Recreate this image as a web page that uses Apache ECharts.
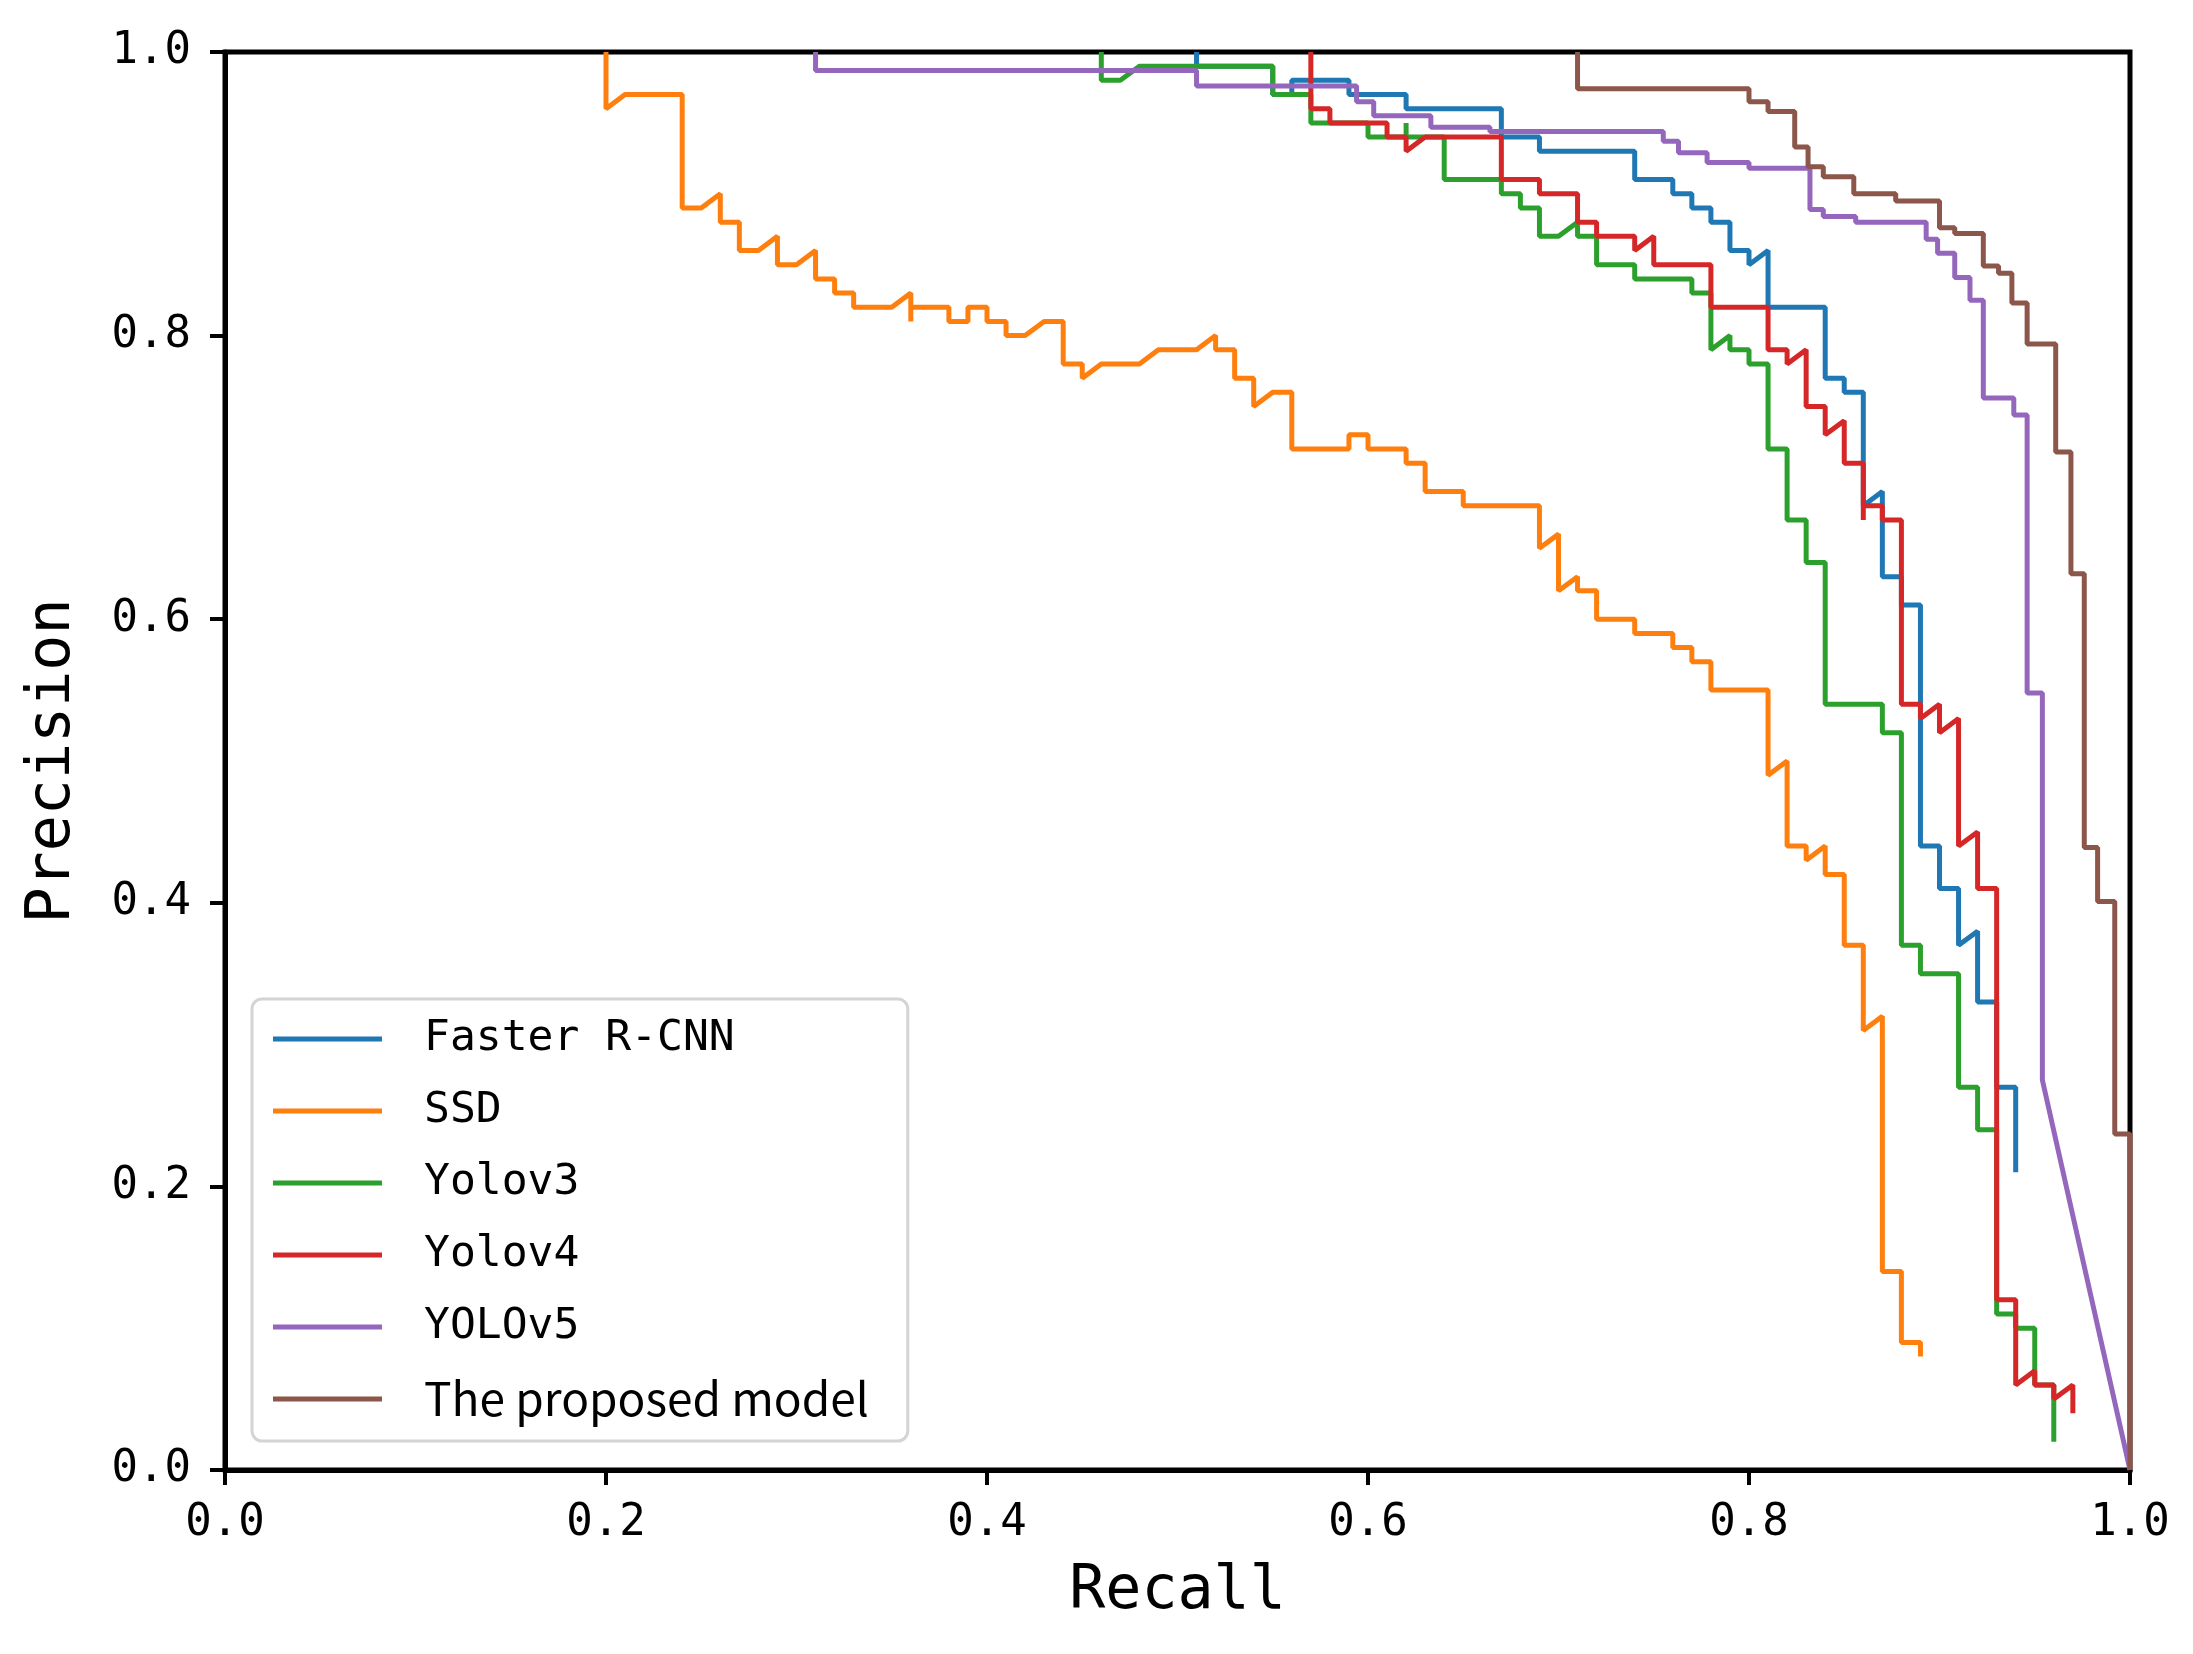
<!DOCTYPE html>
<html>
<head>
<meta charset="utf-8">
<title>PR curves</title>
<script src="https://cdn.jsdelivr.net/npm/echarts@6.0.0/dist/echarts.min.js"></script>
<style>
    html, body { margin: 0; padding: 0; background: #fff; }
    #chart { width: 2193px; height: 1654px; }
</style>
</head>
<body>
<div id="chart"></div>
<script>
// tick labels
const xTicks = [0, 0.2, 0.4, 0.6, 0.8, 1.0];
const yTicks = [0, 0.2, 0.4, 0.6, 0.8, 1.0];

const seriesNames = ['Faster R-CNN', 'SSD', 'Yolov3', 'Yolov4', 'YOLOv5', 'The proposed model'];

// Faster R-CNN
const fasterRecall = [0.51, 0.51, 0.55, 0.55, 0.56, 0.56, 0.59, 0.59, 0.62, 0.62, 0.67, 0.67, 0.69, 0.69, 0.74, 0.74, 0.76, 0.76, 0.77, 0.77, 0.78, 0.78, 0.79, 0.79, 0.80, 0.80, 0.81, 0.81, 0.84, 0.84, 0.85, 0.85, 0.86, 0.86, 0.87, 0.87, 0.88, 0.88, 0.89, 0.89, 0.90, 0.90, 0.91, 0.91, 0.92, 0.92, 0.93, 0.93, 0.94, 0.94];
const fasterPrecision = [1.00, 0.99, 0.99, 0.97, 0.97, 0.98, 0.98, 0.97, 0.97, 0.96, 0.96, 0.94, 0.94, 0.93, 0.93, 0.91, 0.91, 0.90, 0.90, 0.89, 0.89, 0.88, 0.88, 0.86, 0.86, 0.85, 0.86, 0.82, 0.82, 0.77, 0.77, 0.76, 0.76, 0.68, 0.69, 0.63, 0.63, 0.61, 0.61, 0.44, 0.44, 0.41, 0.41, 0.37, 0.38, 0.33, 0.33, 0.27, 0.27, 0.21];

// SSD
const ssdRecall = [0.20, 0.20, 0.21, 0.24, 0.24, 0.25, 0.26, 0.26, 0.27, 0.27, 0.28, 0.29, 0.29, 0.30, 0.31, 0.31, 0.32, 0.32, 0.33, 0.33, 0.35, 0.36, 0.36, 0.36, 0.38, 0.38, 0.39, 0.39, 0.40, 0.40, 0.41, 0.41, 0.42, 0.43, 0.44, 0.44, 0.45, 0.45, 0.46, 0.48, 0.49, 0.51, 0.52, 0.52, 0.53, 0.53, 0.54, 0.54, 0.55, 0.56, 0.56, 0.59, 0.59, 0.60, 0.60, 0.62, 0.62, 0.63, 0.63, 0.65, 0.65, 0.69, 0.69, 0.70, 0.70, 0.71, 0.71, 0.72, 0.72, 0.74, 0.74, 0.76, 0.76, 0.77, 0.77, 0.78, 0.78, 0.81, 0.81, 0.82, 0.82, 0.83, 0.83, 0.84, 0.84, 0.85, 0.85, 0.86, 0.86, 0.87, 0.87, 0.88, 0.88, 0.89, 0.89];
const ssdPrecision = [1.00, 0.96, 0.97, 0.97, 0.89, 0.89, 0.90, 0.88, 0.88, 0.86, 0.86, 0.87, 0.85, 0.85, 0.86, 0.84, 0.84, 0.83, 0.83, 0.82, 0.82, 0.83, 0.81, 0.82, 0.82, 0.81, 0.81, 0.82, 0.82, 0.81, 0.81, 0.80, 0.80, 0.81, 0.81, 0.78, 0.78, 0.77, 0.78, 0.78, 0.79, 0.79, 0.80, 0.79, 0.79, 0.77, 0.77, 0.75, 0.76, 0.76, 0.72, 0.72, 0.73, 0.73, 0.72, 0.72, 0.71, 0.71, 0.69, 0.69, 0.68, 0.68, 0.65, 0.66, 0.62, 0.63, 0.62, 0.62, 0.60, 0.60, 0.59, 0.59, 0.58, 0.58, 0.57, 0.57, 0.55, 0.55, 0.49, 0.50, 0.44, 0.44, 0.43, 0.44, 0.42, 0.42, 0.37, 0.37, 0.31, 0.32, 0.14, 0.14, 0.09, 0.09, 0.08];

// Yolov3
const v3Recall = [0.46, 0.46, 0.47, 0.48, 0.55, 0.55, 0.57, 0.57, 0.60, 0.60, 0.62, 0.62, 0.62, 0.64, 0.64, 0.67, 0.67, 0.68, 0.68, 0.69, 0.69, 0.70, 0.71, 0.71, 0.72, 0.72, 0.74, 0.74, 0.77, 0.77, 0.78, 0.78, 0.79, 0.79, 0.80, 0.80, 0.81, 0.81, 0.82, 0.82, 0.83, 0.83, 0.84, 0.84, 0.87, 0.87, 0.88, 0.88, 0.89, 0.89, 0.91, 0.91, 0.92, 0.92, 0.93, 0.93, 0.94, 0.94, 0.95, 0.95, 0.96, 0.96];
const v3Precision = [1.00, 0.98, 0.98, 0.99, 0.99, 0.97, 0.97, 0.95, 0.95, 0.94, 0.94, 0.95, 0.94, 0.94, 0.91, 0.91, 0.90, 0.90, 0.89, 0.89, 0.87, 0.87, 0.88, 0.87, 0.87, 0.85, 0.85, 0.84, 0.84, 0.83, 0.83, 0.79, 0.80, 0.79, 0.79, 0.78, 0.78, 0.72, 0.72, 0.67, 0.67, 0.64, 0.64, 0.54, 0.54, 0.52, 0.52, 0.37, 0.37, 0.35, 0.35, 0.27, 0.27, 0.24, 0.24, 0.11, 0.11, 0.10, 0.10, 0.06, 0.06, 0.02];

// Yolov4
const v4Recall = [0.57, 0.57, 0.58, 0.58, 0.61, 0.61, 0.62, 0.62, 0.63, 0.67, 0.67, 0.69, 0.69, 0.71, 0.71, 0.72, 0.72, 0.74, 0.74, 0.75, 0.75, 0.78, 0.78, 0.81, 0.81, 0.82, 0.82, 0.83, 0.83, 0.84, 0.84, 0.85, 0.85, 0.86, 0.86, 0.86, 0.87, 0.87, 0.88, 0.88, 0.89, 0.89, 0.90, 0.90, 0.91, 0.91, 0.92, 0.92, 0.93, 0.93, 0.94, 0.94, 0.95, 0.95, 0.96, 0.96, 0.97, 0.97];
const v4Precision = [1.00, 0.96, 0.96, 0.95, 0.95, 0.94, 0.94, 0.93, 0.94, 0.94, 0.91, 0.91, 0.90, 0.90, 0.88, 0.88, 0.87, 0.87, 0.86, 0.87, 0.85, 0.85, 0.82, 0.82, 0.79, 0.79, 0.78, 0.79, 0.75, 0.75, 0.73, 0.74, 0.71, 0.71, 0.67, 0.68, 0.68, 0.67, 0.67, 0.54, 0.54, 0.53, 0.54, 0.52, 0.53, 0.44, 0.45, 0.41, 0.41, 0.12, 0.12, 0.06, 0.07, 0.06, 0.06, 0.05, 0.06, 0.04];

// YOLOv5
const v5Recall = [0.31, 0.31, 0.51, 0.51, 0.594, 0.594, 0.603, 0.603, 0.633, 0.633, 0.664, 0.664, 0.755, 0.755, 0.763, 0.763, 0.778, 0.778, 0.80, 0.80, 0.832, 0.832, 0.839, 0.839, 0.856, 0.856, 0.893, 0.893, 0.899, 0.899, 0.908, 0.908, 0.916, 0.916, 0.923, 0.923, 0.939, 0.939, 0.946, 0.946, 0.954, 0.954, 1.0];
const v5Precision = [1.00, 0.987, 0.987, 0.976, 0.976, 0.965, 0.965, 0.955, 0.955, 0.947, 0.947, 0.944, 0.944, 0.937, 0.937, 0.929, 0.929, 0.922, 0.922, 0.918, 0.918, 0.889, 0.889, 0.884, 0.884, 0.880, 0.880, 0.868, 0.868, 0.858, 0.858, 0.841, 0.841, 0.825, 0.825, 0.756, 0.756, 0.744, 0.744, 0.548, 0.548, 0.275, 0.0];

// The proposed model
const oursRecall = [0.71, 0.71, 0.80, 0.80, 0.81, 0.81, 0.824, 0.824, 0.831, 0.831, 0.839, 0.839, 0.855, 0.855, 0.877, 0.877, 0.90, 0.90, 0.908, 0.908, 0.923, 0.923, 0.931, 0.931, 0.938, 0.938, 0.946, 0.946, 0.961, 0.961, 0.969, 0.969, 0.976, 0.976, 0.983, 0.983, 0.992, 0.992, 1.0, 1.0];
const oursPrecision = [1.00, 0.974, 0.974, 0.965, 0.965, 0.958, 0.958, 0.933, 0.933, 0.919, 0.919, 0.912, 0.912, 0.900, 0.900, 0.895, 0.895, 0.876, 0.876, 0.872, 0.872, 0.849, 0.849, 0.844, 0.844, 0.823, 0.823, 0.794, 0.794, 0.718, 0.718, 0.632, 0.632, 0.439, 0.439, 0.401, 0.401, 0.237, 0.237, 0.0];

const colors = ['#1f77b4', '#ff7f0e', '#2ca02c', '#d62728', '#9467bd', '#8c564b'];
const curves = [
    [fasterRecall, fasterPrecision],
    [ssdRecall, ssdPrecision],
    [v3Recall, v3Precision],
    [v4Recall, v4Precision],
    [v5Recall, v5Precision],
    [oursRecall, oursPrecision]
];

const monoFont = '"DejaVu Sans Mono", "Liberation Mono", monospace';

const toPoints = (recall, precision) => recall.map((r, i) => [r, precision[i]]);

const tickLabel = (value) => value.toFixed(1);

const buildSeries = () => curves.map(([recall, precision], i) => ({
    name: seriesNames[i],
    type: 'line',
    data: toPoints(recall, precision),
    symbol: 'none',
    lineStyle: { color: colors[i], width: 5 },
    itemStyle: { color: colors[i] },
    emphasis: { disabled: true }
}));

const axisCommon = {
    type: 'value',
    interval: 0.2,
    nameLocation: 'middle',
    nameTextStyle: { fontFamily: monoFont, fontSize: 60, color: '#000' },
    axisLine: { show: true, lineStyle: { color: '#000', width: 5 } },
    axisTick: { show: true, inside: false, length: 15, lineStyle: { color: '#000', width: 4 } },
    splitLine: { show: false }
};

const chartOpt = () => ({
    backgroundColor: '#fff',
    animation: false,
    color: colors,
    grid: {
        left: 225,
        right: 63,
        top: 52,
        bottom: 184,
        show: true,
        borderColor: '#000',
        borderWidth: 5,
        backgroundColor: 'transparent'
    },
    xAxis: {
        ...axisCommon,
        min: xTicks[0],
        max: xTicks[xTicks.length - 1],
        name: 'Recall',
        nameGap: 92,
        axisLabel: {
            margin: 32,
            fontFamily: monoFont,
            fontSize: 44,
            color: '#000',
            formatter: tickLabel,
            showMinLabel: true,
            showMaxLabel: true
        }
    },
    yAxis: {
        ...axisCommon,
        min: yTicks[0],
        max: yTicks[yTicks.length - 1],
        name: 'Precision',
        nameGap: 142,
        axisLabel: {
            margin: 34,
            fontFamily: monoFont,
            fontSize: 44,
            color: '#000',
            formatter: tickLabel
        }
    },
    legend: {
        show: true,
        orient: 'vertical',
        left: 252,
        top: 999,
        data: seriesNames,
        icon: 'rect',
        itemWidth: 109,
        itemHeight: 5,
        itemGap: 22,
        padding: [15, 39, 17, 21],
        backgroundColor: 'rgba(255,255,255,0.85)',
        borderColor: '#d4d4d4',
        borderWidth: 3,
        borderRadius: 10,
        selectedMode: false,
        textStyle: {
            fontFamily: monoFont,
            fontSize: 43,
            color: '#000',
            lineHeight: 50,
            padding: [0, 0, 0, 37],
            rich: {
                p: {
                    fontFamily: '"Noto Sans CJK SC", "Noto Sans", sans-serif',
                    fontSize: 46,
                    color: '#000',
                    lineHeight: 50
                }
            }
        },
        formatter: (name) => (name === 'The proposed model' ? '{p|' + name + '}' : name)
    },
    series: buildSeries()
});

const chart = echarts.init(document.getElementById('chart'));
chart.setOption(chartOpt());
</script>
</body>
</html>
